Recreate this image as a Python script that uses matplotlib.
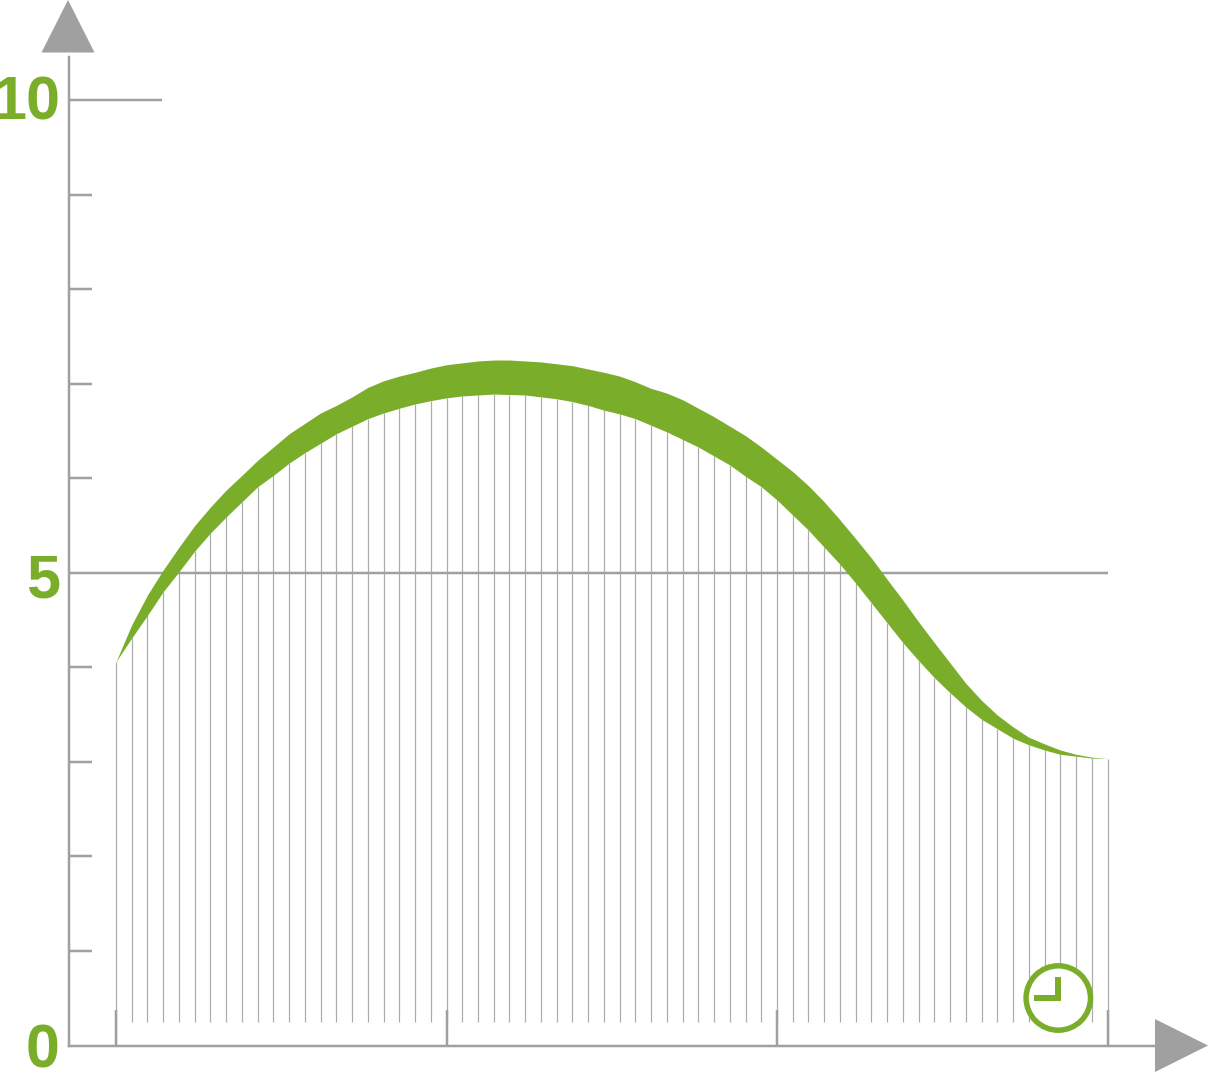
import numpy as np
import matplotlib
matplotlib.use("Agg")
import matplotlib.pyplot as plt
from matplotlib.patches import Polygon, Circle, Rectangle
from matplotlib.transforms import Affine2D

GREEN = "#7aae2a"
GREY = "#a0a0a0"
HATCH = "#ababab"

# curve values at each of the 64 hatch lines, 21 lines per major x tick
lower = [4.06, 4.31, 4.55, 4.80, 5.01, 5.23, 5.42, 5.59, 5.75, 5.91, 6.03, 6.16, 6.27, 6.37, 6.47, 6.55,
         6.63, 6.69, 6.74, 6.785, 6.82, 6.85, 6.87, 6.88, 6.89, 6.885, 6.88, 6.86, 6.84, 6.81, 6.77, 6.72,
         6.68, 6.63, 6.56, 6.49, 6.41, 6.33, 6.235, 6.14, 6.02, 5.91, 5.77, 5.61, 5.45, 5.27, 5.09, 4.89,
         4.68, 4.47, 4.26, 4.07, 3.89, 3.73, 3.58, 3.45, 3.35, 3.25, 3.18, 3.125, 3.08, 3.06, 3.04, 3.035]
upper = [4.06, 4.45, 4.765, 5.03, 5.27, 5.50, 5.695, 5.875, 6.03, 6.19, 6.33, 6.47, 6.58, 6.69, 6.77, 6.86,
         6.96, 7.03, 7.08, 7.12, 7.165, 7.20, 7.22, 7.24, 7.25, 7.25, 7.24, 7.23, 7.21, 7.19, 7.155, 7.12,
         7.08, 7.02, 6.95, 6.90, 6.83, 6.74, 6.65, 6.55, 6.45, 6.33, 6.20, 6.07, 5.92, 5.75, 5.56, 5.36,
         5.155, 4.93, 4.71, 4.48, 4.26, 4.045, 3.83, 3.65, 3.495, 3.37, 3.26, 3.19, 3.125, 3.08, 3.05, 3.035]
hatch_x = np.arange(64) / 21
major_x = [0, 1, 2, 3]
minor_y = [1, 2, 3, 4, 6, 7, 8, 9]
y_labels = ["0", "5", "10"]
y_label_vals = [0, 5, 10]

W, H = 1208, 1072
x0, xs = 116, 330.5   # pixel of x=0, pixels per unit
y0, ys = 1045.5, 94.55

fig = plt.figure(figsize=(W / 100, H / 100), dpi=100)
ax = fig.add_axes([0, 0, 1, 1])
ax.set_xlim(-x0 / xs, (W - x0) / xs)
ax.set_ylim((y0 - H) / ys, y0 / ys)
ax.axis("off")

# pixel coordinates of the picture, for arrowheads and clock icon
px = Affine2D().scale(1, -1).translate(0, H)

axis_x = (68.5 - x0) / xs
tick_end = (92 - x0) / xs
lw_axis = 2.5 * 0.72

# hatch lines up to the lower edge
for i in range(len(hatch_x)):
    bottom = 0 if i in (0, len(hatch_x) - 1) else 0.25
    ax.plot([hatch_x[i], hatch_x[i]], [bottom, lower[i]], color=HATCH, lw=1.2 * 0.72,
            solid_capstyle="butt", zorder=1)

# axes and ticks
ax.plot([axis_x, axis_x], [0, 10.45], color=GREY, lw=lw_axis, solid_capstyle="projecting", zorder=2)
ax.plot([axis_x, (1156 - x0) / xs], [0, 0], color=GREY, lw=lw_axis, solid_capstyle="projecting", zorder=2)
for v in minor_y:
    ax.plot([axis_x, tick_end], [v, v], color=GREY, lw=lw_axis, solid_capstyle="butt", zorder=2)
ax.plot([axis_x, 3], [5, 5], color=GREY, lw=lw_axis, solid_capstyle="butt", zorder=2)
ax.plot([axis_x, (162 - x0) / xs], [10, 10], color=GREY, lw=lw_axis, solid_capstyle="butt", zorder=2)
for v in major_x:
    ax.plot([v, v], [0, 0.375], color=GREY, lw=lw_axis, solid_capstyle="butt", zorder=2)

# green band
ax.fill_between(hatch_x, lower, upper, color=GREEN, lw=0, zorder=3)

# arrowheads
ax.add_patch(Polygon([(41.5, 52.5), (94.5, 52.5), (68, 0)], closed=True, fc=GREY, ec="none",
                     transform=px + fig.dpi_scale_trans.inverted() + fig.dpi_scale_trans, zorder=4))
ax.add_patch(Polygon([(1155, 1019), (1155, 1072), (1208, 1045.5)], closed=True, fc=GREY, ec="none",
                     transform=px, zorder=4))

# clock icon
ax.add_patch(Circle((1058.3, 998), 32.2, fc="white", ec=GREEN, lw=5.5 * 0.72, transform=px, zorder=5))
ax.add_patch(Rectangle((1055, 977), 6, 24, fc=GREEN, ec="none", transform=px, zorder=6))
ax.add_patch(Rectangle((1034, 995), 27, 6, fc=GREEN, ec="none", transform=px, zorder=6))

# y labels
label_y = {0: 1067, 5: 597, 10: 120}
for s, v in zip(y_labels, y_label_vals):
    ax.text(60, label_y[v], s, transform=px, ha="right", va="baseline", color=GREEN,
            fontsize=44, fontweight="bold", family="Liberation Sans", zorder=7)

fig.savefig("out.png", dpi=100)
